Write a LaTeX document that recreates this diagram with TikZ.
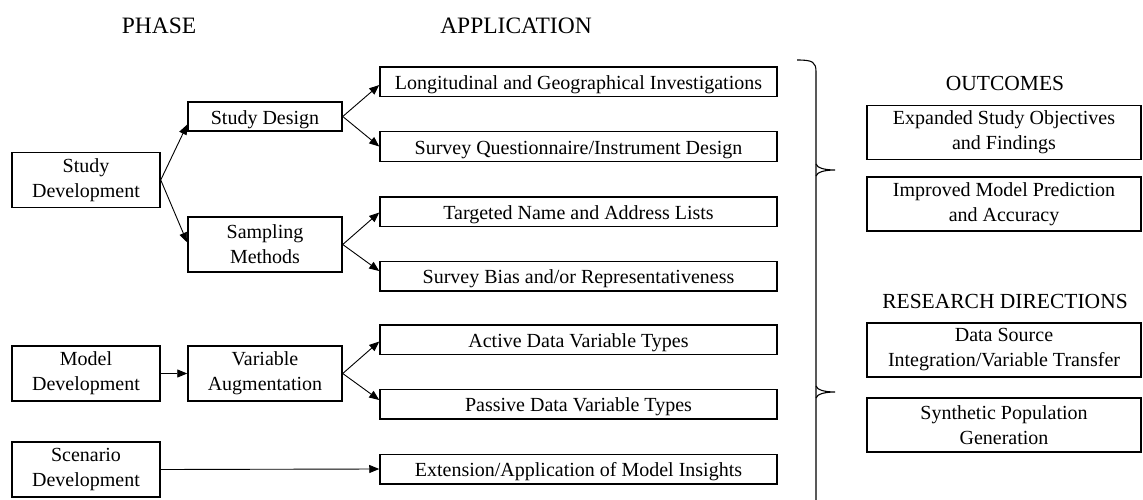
\documentclass[tikz,border=0pt]{standalone}
\usepackage{fontspec}
\setmainfont{Liberation Serif}
\usetikzlibrary{arrows.meta}
\begin{document}
\begin{tikzpicture}[x=1pt,y=-1pt,
  box/.style={draw, line width=1.5pt, inner sep=0pt, align=center, font=\fontsize{20}{25}\selectfont},
  oneline/.style={execute at begin node={\rule{0pt}{19.5pt}}},
  phasebox/.style={box, minimum width=148pt, minimum height=55pt},
  midbox/.style={box, minimum width=154pt},
  appbox/.style={box, oneline, minimum width=397pt, minimum height=29.5pt},
  outbox/.style={box, minimum width=274pt, minimum height=54pt, execute at begin node={\rule{0pt}{17pt}}},
  head/.style={font=\fontsize{23.5}{28}\selectfont, inner sep=0pt},
  subhead/.style={font=\fontsize{21.5}{25}\selectfont, inner sep=0pt},
  arr/.style={-{Triangle[length=10pt,width=8pt]}, line width=0.9pt},
  brace/.style={line width=1.1pt}]
\useasboundingbox (0,0) rectangle (1143,500);

\node[head] (hphase) at (159,26) {PHASE};
\node[head] (happ) at (516,26) {APPLICATION};

\node[phasebox] (sdev) at (86,180) {Study\\Development};
\node[midbox, oneline, minimum height=29pt] (sdes) at (265,116.5) {Study Design};
\node[midbox, minimum height=55pt] (samp) at (265,244.5) {Sampling\\Methods};
\node[phasebox] (mdev) at (86,373.5) {Model\\Development};
\node[midbox, minimum height=55pt] (vaug) at (265,373.5) {Variable\\Augmentation};
\node[phasebox] (scen) at (86,469.5) {Scenario\\Development};

\node[appbox] (a1) at (578.5,82) {Longitudinal and Geographical Investigations};
\node[appbox] (a2) at (578.5,146.5) {Survey Questionnaire/Instrument Design};
\node[appbox] (a3) at (578.5,211.5) {Targeted Name and Address Lists};
\node[appbox] (a4) at (578.5,276) {Survey Bias and/or Representativeness};
\node[appbox] (a5) at (578.5,339.5) {Active Data Variable Types};
\node[appbox] (a6) at (578.5,404) {Passive Data Variable Types};
\node[appbox] (a7) at (578.5,469) {Extension/Application of Model Insights};

\node[subhead] (hout) at (1005,83) {OUTCOMES};
\node[outbox] (o1) at (1004,132.5) {Expanded Study Objectives\\and Findings};
\node[outbox] (o2) at (1004,204) {Improved Model Prediction\\and Accuracy};
\node[subhead] (hres) at (1005,301) {RESEARCH DIRECTIONS};
\node[outbox] (o3) at (1004,350) {Data Source\\Integration/Variable Transfer};
\node[outbox] (o4) at (1004,425) {Synthetic Population\\Generation};

\draw[arr] (sdev.east) -- ([yshift=-8pt]sdes.west);
\draw[arr] (sdev.east) -- ([yshift=2pt]samp.west);
\draw[arr] (sdes.east) -- ([yshift=-3pt]a1.west);
\draw[arr] (sdes.east) -- (a2.west);
\draw[arr] (samp.east) -- ([yshift=-1pt]a3.west);
\draw[arr] (samp.east) -- ([yshift=5pt]a4.west);
\draw[arr] (mdev.east) -- (vaug.west);
\draw[arr] (vaug.east) -- ([yshift=-2pt]a5.west);
\draw[arr] (vaug.east) -- ([yshift=4pt]a6.west);
\draw[arr] (scen.east) -- (a7.west);

\draw[brace] (797,60) .. controls (813,60) and (816,62) .. (816,72) -- (816,500);
\draw[brace] (816,164) .. controls (817,168) and (825,170) .. (835,170) .. controls (825,170) and (817,172) .. (816,176);
\draw[brace] (816,386) .. controls (817,390) and (825,392) .. (835,392) .. controls (825,392) and (817,394) .. (816,398);
\end{tikzpicture}
\end{document}
